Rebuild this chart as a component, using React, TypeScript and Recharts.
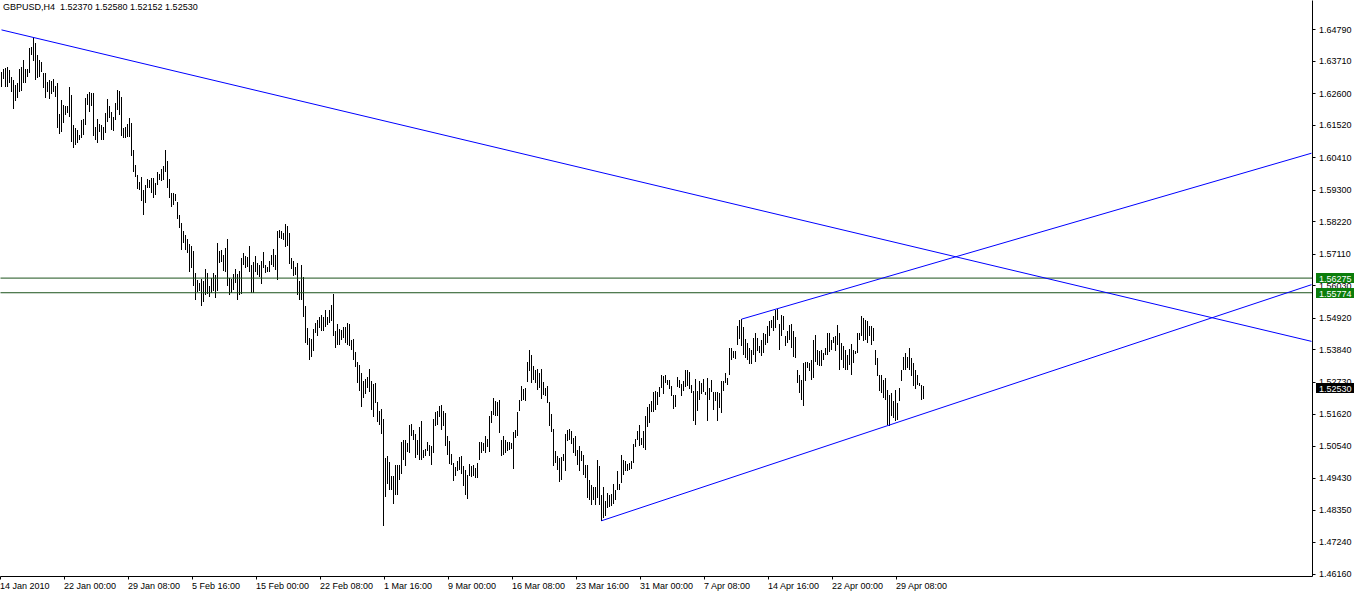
import { Bar, ComposedChart, ReferenceLine, XAxis, YAxis } from 'recharts';

// GBPUSD H4, one bar every 4 hours starting 14 Jan 2010
const barHighs = [
  1.6334, 1.6342, 1.6346, 1.6349, 1.6338, 1.6317, 1.6306, 1.6289, 1.6294, 1.6342,
  1.6351, 1.6374, 1.6343, 1.6342, 1.6414, 1.6417, 1.6454, 1.6431, 1.6391, 1.6374,
  1.6368, 1.6331, 1.6329, 1.6297, 1.6306, 1.6303, 1.6308, 1.6285, 1.6294, 1.6189,
  1.6237, 1.6220, 1.6217, 1.6217, 1.6283, 1.6254, 1.6152, 1.6140, 1.6135, 1.6118,
  1.6169, 1.6171, 1.6243, 1.6258, 1.6266, 1.6262, 1.6262, 1.6144, 1.6172, 1.6155,
  1.6152, 1.6146, 1.6192, 1.6240, 1.6217, 1.6197, 1.6178, 1.6228, 1.6272, 1.6268,
  1.6249, 1.6140, 1.6144, 1.6155, 1.6175, 1.6158, 1.6066, 1.6015, 1.5981, 1.5958,
  1.5975, 1.5929, 1.5947, 1.5966, 1.5964, 1.5969, 1.5969, 1.5952, 1.5990, 1.5984,
  1.6000, 1.6012, 1.6066, 1.6027, 1.5966, 1.5920, 1.5918, 1.5915, 1.5887, 1.5844,
  1.5816, 1.5789, 1.5774,
  1.5762, 1.5745, 1.5738, 1.5721, 1.5644, 1.5622, 1.5610, 1.5624, 1.5616, 1.5659,
  1.5644, 1.5602, 1.5627, 1.5644, 1.5639, 1.5747, 1.5719, 1.5724, 1.5705, 1.5732,
  1.5762, 1.5627, 1.5624, 1.5641, 1.5659, 1.5641, 1.5652, 1.5696, 1.5713, 1.5704,
  1.5701, 1.5738, 1.5671, 1.5682, 1.5704, 1.5679, 1.5673, 1.5687, 1.5716, 1.5673,
  1.5667, 1.5687, 1.5707, 1.5728, 1.5705, 1.5789, 1.5793, 1.5789, 1.5781, 1.5812,
  1.5806, 1.5781, 1.5696, 1.5687, 1.5667, 1.5679, 1.5616, 1.5673, 1.5633, 1.5533,
  1.5456, 1.5422, 1.5419, 1.5453, 1.5474, 1.5485, 1.5493, 1.5502, 1.5496, 1.5517,
  1.5496, 1.5519, 1.5536, 1.5574, 1.5447, 1.5470, 1.5454, 1.5451, 1.5460, 1.5460,
  1.5474, 1.5471, 1.5416, 1.5419, 1.5374, 1.5342, 1.5329, 1.5302, 1.5274, 1.5283,
  1.5288, 1.5317,
  1.5274, 1.5265, 1.5268, 1.5202, 1.5171, 1.5181, 1.5146, 1.5012, 1.5017, 1.4997,
  1.4949, 1.4949, 1.4989, 1.4989, 1.4987, 1.5065, 1.5075, 1.5075, 1.5063, 1.5126,
  1.5128, 1.5106, 1.5095, 1.5075, 1.5118, 1.5137, 1.5040, 1.5043, 1.5065, 1.5057,
  1.5054, 1.5146, 1.5168, 1.5171, 1.5189, 1.5194, 1.5171, 1.5166, 1.5086, 1.5069,
  1.5027, 1.4995, 1.4980, 1.5000, 1.5015, 1.5017, 1.4983, 1.4970, 1.4955, 1.4992,
  1.4983, 1.4989, 1.4978, 1.4995, 1.5065, 1.5065, 1.5063, 1.5088, 1.5077, 1.5154,
  1.5174, 1.5217, 1.5206, 1.5202, 1.5209, 1.5075, 1.5086, 1.5075, 1.5065, 1.5067,
  1.5063, 1.5101, 1.5109, 1.5168, 1.5209, 1.5259, 1.5248, 1.5251, 1.5339, 1.5382,
  1.5365, 1.5328, 1.5312, 1.5316, 1.5303, 1.5316, 1.5271, 1.5251, 1.5257, 1.5202,
  1.5164, 1.5111, 1.5035,
  1.5018, 1.5012, 1.5014, 1.5025, 1.5094, 1.5109, 1.5112, 1.5105, 1.5082, 1.5088,
  1.5040, 1.5052, 1.5037, 1.5021, 1.4989, 1.4989, 1.4938, 1.4921, 1.4912, 1.4912,
  1.5006, 1.4983, 1.4886, 1.4912, 1.4866, 1.4892, 1.4884, 1.4889, 1.4923, 1.4904,
  1.4966, 1.4924, 1.5021, 1.5006, 1.5000, 1.4991, 1.4995, 1.5003, 1.5060, 1.5077,
  1.5105, 1.5126, 1.5082, 1.5103, 1.5157, 1.5188, 1.5196, 1.5206, 1.5238, 1.5240,
  1.5238, 1.5254, 1.5295, 1.5291, 1.5295, 1.5280, 1.5280, 1.5257, 1.5228, 1.5228,
  1.5289, 1.5280, 1.5265, 1.5276, 1.5314, 1.5314, 1.5306, 1.5260, 1.5242, 1.5283,
  1.5240, 1.5276, 1.5268, 1.5283, 1.5238, 1.5285, 1.5251, 1.5280, 1.5238, 1.5238,
  1.5238, 1.5234, 1.5276, 1.5276, 1.5302, 1.5285, 1.5388, 1.5388, 1.5379, 1.5379,
  1.5462, 1.5485,
  1.5487, 1.5460, 1.5419, 1.5405, 1.5388, 1.5382, 1.5422, 1.5439, 1.5422, 1.5396,
  1.5416, 1.5439, 1.5437, 1.5462, 1.5479, 1.5483, 1.5499, 1.5517, 1.5521, 1.5471,
  1.5502, 1.5499, 1.5428, 1.5448, 1.5468, 1.5471, 1.5445, 1.5426, 1.5314, 1.5297,
  1.5280, 1.5337, 1.5342, 1.5342, 1.5337, 1.5348, 1.5416, 1.5434, 1.5382, 1.5377,
  1.5380, 1.5371, 1.5388, 1.5439, 1.5439, 1.5416, 1.5426, 1.5428, 1.5468, 1.5439,
  1.5407, 1.5394, 1.5382, 1.5365, 1.5385, 1.5402, 1.5382, 1.5377, 1.5439, 1.5439,
  1.5499, 1.5491, 1.5483, 1.5479, 1.5462, 1.5462, 1.5456, 1.5382, 1.5354, 1.5297,
  1.5297, 1.5280, 1.5285, 1.5246, 1.5228, 1.5234, 1.5206, 1.5246, 1.5200, 1.5251,
  1.5314, 1.5359, 1.5371, 1.5357, 1.5388, 1.5354, 1.5337, 1.5314, 1.5297, 1.5268,
  1.5262, 1.5258,
];

const barLows = [
  1.6281, 1.6308, 1.6281, 1.6281, 1.6294, 1.6264, 1.6205, 1.6235, 1.6243, 1.6264,
  1.6268, 1.6294, 1.6294, 1.6317, 1.6329, 1.6391, 1.6372, 1.6306, 1.6311, 1.6317,
  1.6334, 1.6277, 1.6243, 1.6266, 1.6240, 1.6258, 1.6266, 1.6249, 1.6140, 1.6121,
  1.6129, 1.6158, 1.6186, 1.6192, 1.6180, 1.6095, 1.6072, 1.6083, 1.6089, 1.6101,
  1.6106, 1.6118, 1.6152, 1.6220, 1.6197, 1.6215, 1.6114, 1.6101, 1.6089, 1.6129,
  1.6101, 1.6101, 1.6123, 1.6163, 1.6175, 1.6135, 1.6131, 1.6169, 1.6203, 1.6186,
  1.6114, 1.6106, 1.6106, 1.6110, 1.6112, 1.6046, 1.5992, 1.5975, 1.5932, 1.5929,
  1.5890, 1.5844, 1.5884, 1.5935, 1.5935, 1.5918, 1.5901, 1.5912, 1.5947, 1.5964,
  1.5961, 1.5964, 1.5992, 1.5935, 1.5901, 1.5872, 1.5878, 1.5890, 1.5829, 1.5799,
  1.5724, 1.5747, 1.5724,
  1.5713, 1.5650, 1.5662, 1.5599, 1.5553, 1.5580, 1.5582, 1.5531, 1.5545, 1.5570,
  1.5574, 1.5562, 1.5576, 1.5582, 1.5559, 1.5582, 1.5679, 1.5684, 1.5652, 1.5650,
  1.5602, 1.5568, 1.5576, 1.5588, 1.5610, 1.5553, 1.5570, 1.5574, 1.5671, 1.5662,
  1.5665, 1.5648, 1.5576, 1.5576, 1.5650, 1.5637, 1.5633, 1.5608, 1.5662, 1.5644,
  1.5648, 1.5650, 1.5671, 1.5667, 1.5656, 1.5622, 1.5766, 1.5762, 1.5759, 1.5733,
  1.5739, 1.5675, 1.5659, 1.5635, 1.5637, 1.5570, 1.5553, 1.5553, 1.5493, 1.5405,
  1.5399, 1.5346, 1.5359, 1.5377, 1.5439, 1.5428, 1.5456, 1.5445, 1.5445, 1.5460,
  1.5468, 1.5474, 1.5479, 1.5428, 1.5390, 1.5399, 1.5399, 1.5416, 1.5422, 1.5407,
  1.5399, 1.5396, 1.5382, 1.5348, 1.5322, 1.5268, 1.5240, 1.5185, 1.5217, 1.5231,
  1.5251, 1.5237,
  1.5175, 1.5152, 1.5200, 1.5134, 1.5126, 1.5094, 1.4778, 1.4878, 1.4924, 1.4903,
  1.4901, 1.4855, 1.4886, 1.4884, 1.4938, 1.4958, 1.5006, 1.4983, 1.5032, 1.5029,
  1.5086, 1.5075, 1.5012, 1.5023, 1.5006, 1.5004, 1.5012, 1.5017, 1.5035, 1.5017,
  1.4989, 1.5029, 1.5122, 1.5126, 1.5152, 1.5109, 1.5122, 1.5054, 1.5023, 1.4992,
  1.4989, 1.4932, 1.4949, 1.4966, 1.4972, 1.4958, 1.4917, 1.4884, 1.4872, 1.4949,
  1.4947, 1.4949, 1.4943, 1.4943, 1.5006, 1.5029, 1.5037, 1.5029, 1.5050, 1.5031,
  1.5132, 1.5160, 1.5154, 1.5154, 1.5097, 1.5017, 1.5023, 1.5029, 1.5035, 1.5040,
  1.5043, 1.4974, 1.5080, 1.5086, 1.5171, 1.5206, 1.5211, 1.5206, 1.5271, 1.5308,
  1.5268, 1.5280, 1.5268, 1.5246, 1.5251, 1.5214, 1.5228, 1.5225, 1.5200, 1.5120,
  1.5100, 1.4986, 1.4995,
  1.4972, 1.4930, 1.4938, 1.5000, 1.4968, 1.5071, 1.5074, 1.5060, 1.5029, 1.5018,
  1.4987, 1.4966, 1.5000, 1.4953, 1.4943, 1.4875, 1.4869, 1.4852, 1.4869, 1.4852,
  1.4875, 1.4852, 1.4795, 1.4807, 1.4812, 1.4841, 1.4843, 1.4847, 1.4854, 1.4869,
  1.4904, 1.4904, 1.4926, 1.4953, 1.4966, 1.4966, 1.4970, 1.4974, 1.4995, 1.5048,
  1.5074, 1.5052, 1.5057, 1.5046, 1.5040, 1.5117, 1.5131, 1.5169, 1.5169, 1.5177,
  1.5194, 1.5219, 1.5251, 1.5231, 1.5268, 1.5263, 1.5249, 1.5223, 1.5181, 1.5188,
  1.5254, 1.5251, 1.5223, 1.5240, 1.5254, 1.5257, 1.5248, 1.5234, 1.5139, 1.5126,
  1.5174, 1.5211, 1.5231, 1.5238, 1.5228, 1.5137, 1.5211, 1.5238, 1.5177, 1.5208,
  1.5137, 1.5183, 1.5166, 1.5242, 1.5268, 1.5263, 1.5297, 1.5348, 1.5354, 1.5352,
  1.5399, 1.5418,
  1.5394, 1.5365, 1.5354, 1.5348, 1.5334, 1.5334, 1.5365, 1.5342, 1.5377, 1.5371,
  1.5362, 1.5371, 1.5399, 1.5405, 1.5428, 1.5456, 1.5445, 1.5456, 1.5485, 1.5382,
  1.5428, 1.5451, 1.5396, 1.5405, 1.5416, 1.5388, 1.5359, 1.5354, 1.5268, 1.5234,
  1.5211, 1.5189, 1.5274, 1.5320, 1.5308, 1.5280, 1.5285, 1.5342, 1.5331, 1.5328,
  1.5325, 1.5348, 1.5365, 1.5365, 1.5373, 1.5382, 1.5405, 1.5377, 1.5399, 1.5314,
  1.5348, 1.5320, 1.5312, 1.5312, 1.5331, 1.5297, 1.5337, 1.5369, 1.5371, 1.5416,
  1.5428, 1.5411, 1.5416, 1.5405, 1.5430, 1.5399, 1.5411, 1.5331, 1.5291, 1.5240,
  1.5234, 1.5217, 1.5211, 1.5126, 1.5122, 1.5154, 1.5149, 1.5137, 1.5143, 1.5206,
  1.5274, 1.5314, 1.5314, 1.5320, 1.5314, 1.5291, 1.5257, 1.5248, 1.5263, 1.5257,
  1.5211, 1.5215,
];

// time labels on the bottom axis, keyed by bar number
const timeTickBars = [0, 32, 64, 96, 128, 160, 192, 224, 256, 288, 320, 352, 384, 416, 448];
const timeTickLabels = [
  '14 Jan 2010', '22 Jan 00:00', '29 Jan 08:00', '5 Feb 16:00', '15 Feb 00:00',
  '22 Feb 08:00', '1 Mar 16:00', '9 Mar 00:00', '16 Mar 08:00', '23 Mar 16:00',
  '31 Mar 00:00', '7 Apr 08:00', '14 Apr 16:00', '22 Apr 00:00', '29 Apr 08:00',
];

const priceTicks = [
  1.6479, 1.6371, 1.626, 1.6152, 1.6041, 1.593, 1.5822, 1.5711, 1.5603,
  1.5492, 1.5384, 1.5273, 1.5162, 1.5054, 1.4943, 1.4835, 1.4724, 1.4616,
];

const horizontalLevels = [1.56275, 1.55774];
const priceTags = [
  { price: 1.56275, color: '#0b7d0b' },
  { price: 1.55774, color: '#0b7d0b' },
  { price: 1.5253, color: '#000000' },
];

// trend lines (bar, price) pairs
const trendLines = [
  { a: [0, 1.6477], b: [655, 1.5411] },
  { a: [370, 1.5487], b: [655, 1.6055] },
  { a: [300, 1.4797], b: [655, 1.5605] },
];

const SLOTS = 656; // visible bar slots incl. right shift
const FONT = '"Liberation Sans", Arial, sans-serif';

const rows = Array.from({ length: SLOTS }, (_, i) => ({
  i,
  range: i < barHighs.length ? [barLows[i], barHighs[i]] : null,
}));

const HLBar = (props: any) => {
  const { x, y, width, height } = props;
  if (y == null || height == null || isNaN(y)) return null;
  const left = Math.floor(x + width / 2 - 1);
  const top = Math.round(y);
  const bottom = Math.round(y + height);
  return <rect x={left} y={top} width={1} height={Math.max(1, bottom - top)} fill="#000" />;
};

const TimeTick = (props: any) => {
  const { x, y, payload } = props;
  const idx = timeTickBars.indexOf(payload.value);
  const lx = Math.floor(x) - 1 + 0.5;
  return (
    <g>
      <line x1={lx} x2={lx} y1={y} y2={y + 3} stroke="#000" />
      <text x={lx - 0.5} y={y + 12.5} fontSize={9} fontFamily={FONT} fill="#000">
        {timeTickLabels[idx]}
      </text>
    </g>
  );
};

const PriceTick = (props: any) => {
  const { x, y, payload } = props;
  const v = payload.value as number;
  const tag = priceTags.find((t) => t.price === v);
  const yy = Math.round(y);
  if (tag) {
    return (
      <g>
        <rect x={x + 3.5} y={yy - 5} width={38} height={10} fill={tag.color} />
        <text x={x + 6.5} y={yy + 3.5} fontSize={9} fontFamily={FONT} fill="#fff">
          {v.toFixed(5)}
        </text>
      </g>
    );
  }
  return (
    <g>
      <line x1={x} x2={x + 3} y1={yy + 0.5} y2={yy + 0.5} stroke="#000" />
      <text x={x + 6.5} y={y + 3.3} fontSize={9} fontFamily={FONT} fill="#000">
        {v.toFixed(5)}
      </text>
    </g>
  );
};

export default function App() {
  return (
    <div style={{ position: 'absolute', left: 0, top: 0, width: 1354, height: 596, background: '#fff', fontFamily: FONT }}>
      <ComposedChart
        width={1354}
        height={596}
        data={rows}
        margin={{ top: 0.5, right: 0.5, bottom: 0.5, left: 0.5 }}
        barCategoryGap={0}
      >
        <XAxis
          dataKey="i"
          type="category"
          ticks={timeTickBars}
          interval={0}
          height={19}
          tickSize={0}
          tickMargin={0}
          tickLine={false}
          axisLine={{ stroke: '#000' }}
          tick={<TimeTick />}
        />
        <YAxis
          orientation="right"
          type="number"
          width={41}
          domain={[1.460631, 1.657756]}
          allowDataOverflow
          ticks={[...priceTicks, ...priceTags.map((t) => t.price)]}
          interval={0}
          tickSize={0}
          tickMargin={0}
          tickLine={false}
          axisLine={{ stroke: '#000' }}
          tick={<PriceTick />}
        />
        <Bar dataKey="range" barSize={1} shape={<HLBar />} isAnimationActive={false} />
        {horizontalLevels.map((p) => (
          <ReferenceLine key={p} y={p} stroke="#1c531c" strokeWidth={1} />
        ))}
        {trendLines.map((t, k) => (
          <ReferenceLine
            key={k}
            segment={[{ x: t.a[0], y: t.a[1] }, { x: t.b[0], y: t.b[1] }]}
            stroke="#0000ff"
            strokeWidth={1}
            ifOverflow="visible"
          />
        ))}
      </ComposedChart>
      <div style={{ position: 'absolute', left: 3, top: 2, fontSize: 9, lineHeight: '11px', whiteSpace: 'pre', color: '#000' }}>
        {'GBPUSD,H4  1.52370 1.52580 1.52152 1.52530'}
      </div>
    </div>
  );
}
